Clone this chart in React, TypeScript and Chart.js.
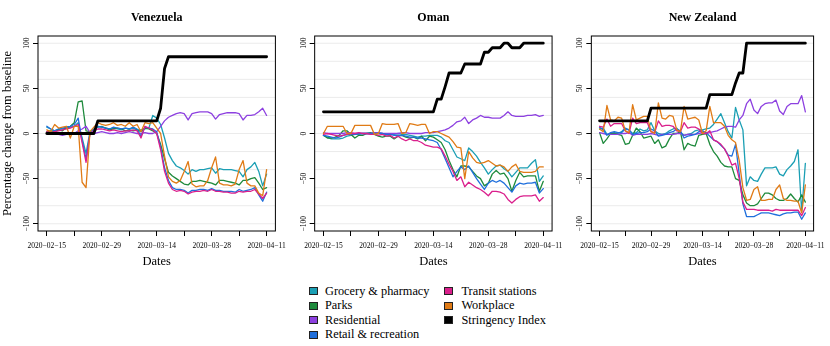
import React, { useEffect, useRef } from "react";
import { Chart, registerables } from "chart.js";

Chart.register(...registerables);

// ---------- data ----------
const countries = ["Venezuela", "Oman", "New Zealand"];
const seriesNames = [
  "Grocery & pharmacy",
  "Parks",
  "Residential",
  "Retail & recreation",
  "Transit stations",
  "Workplace",
  "Stringency Index",
];
const seriesColors = ["#1b9fb4", "#1e8a3c", "#8d40e0", "#1f6fdc", "#da1f8c", "#e07b16", "#000000"];

// x positions are day offsets from 2020-02-15
const xTickDays = [0, 7, 14, 21, 28, 35, 42, 49, 56];
const xTickLabels = ["2020−02−15", "", "2020−02−29", "", "2020−03−14", "", "2020−03−28", "", "2020−04−11"];
const yTickValues = [-100, -50, 0, 50, 100];
const yTickLabels = ["−100", "−50", "0", "50", "100"];
const yGridValues = [-100, -80, -60, -40, -20, 0, 20, 40, 60, 80, 100];

// Venezuela
const venGrocery = [7, 5, 3, 5, 5, 6, 7, 8, 12, -5, -22, 2, 5, 7, 8, 6, 5, 6, 5, 4, 6, 5, 6, 4, 4, 5, 6, 20, 17, 10, -5, -22, -30, -36, -38, -41, -45, -40, -42, -40, -40, -39, -38, -44, -39, -40, -40, -40, -41, -42, -48, -40, -37, -32, -42, -58, -45];
const venParks = [2, 3, 2, 4, 3, 7, 8, 12, 35, 36, 3, 2, 4, 8, 7, 6, 4, 5, 6, 5, 3, 4, 3, 4, 2, 6, 5, 3, 0, -12, -28, -43, -47, -50, -53, -56, -57, -53, -53, -52, -53, -54, -55, -57, -52, -52, -53, -54, -55, -57, -52, -52, -50, -49, -55, -62, -60];
const venResidential = [0, 0, 0, -1, -2, -1, 1, 0, 3, 5, 8, 1, 0, 1, 2, 1, 0, 0, 1, 0, 1, 2, 1, 0, 0, 1, 0, 0, 2, 8, 14, 18, 20, 22, 23, 22, 15, 22, 23, 24, 24, 24, 22, 16, 21, 22, 23, 23, 23, 22, 15, 20, 20, 21, 24, 28, 20];
const venRetail = [8, 5, 3, 5, 6, 7, 8, 10, 17, -8, -28, 0, 5, 8, 7, 6, 5, 7, 6, 5, 6, 5, 7, 5, -3, 7, 6, 5, 2, -15, -38, -52, -60, -62, -62, -63, -66, -63, -63, -62, -62, -63, -61, -63, -63, -64, -64, -64, -65, -62, -64, -63, -62, -60, -68, -75, -65];
const venTransit = [2, 1, 2, 3, 4, 5, 6, 8, 10, -10, -32, 0, 3, 5, 5, 4, 3, 4, 3, 2, 3, 3, 4, 3, -5, 8, 6, 4, 0, -18, -42, -55, -62, -64, -63, -64, -67, -65, -64, -64, -63, -64, -62, -64, -64, -65, -65, -66, -66, -64, -65, -64, -64, -62, -67, -72, -66];
const venWorkplace = [4, 2, 10, 6, 7, 8, -5, 8, 8, -54, -60, 2, 7, 12, 10, 9, 10, 12, 9, 10, 8, 12, 8, 10, 2, 12, 11, 12, 6, 0, -25, -48, -53, -55, -52, -42, -31, -56, -59, -58, -58, -52, -38, -26, -55, -57, -57, -58, -56, -40, -30, -55, -58, -58, -66, -69, -40];
const venStringency = [0, 0, 0, 0, 0, 0, 0, 0, 0, 0, 0, 0, 0, 14, 14, 14, 14, 14, 14, 14, 14, 14, 14, 14, 14, 14, 14, 14, 14, 28, 72, 85, 85, 85, 85, 85, 85, 85, 85, 85, 85, 85, 85, 85, 85, 85, 85, 85, 85, 85, 85, 85, 85, 85, 85, 85, 85];

// Oman
const omanGrocery = [-2, -4, -6, -6, -6, -5, -3, -2, -1, -1, 0, 0, 0, 1, 1, 0, -1, -1, -1, 0, -1, -1, -2, -3, -4, -3, -3, -2, -2, -2, -4, -8, -10, -18, -26, -28, -30, -16, -20, -25, -32, -38, -45, -40, -36, -35, -39, -42, -48, -43, -38, -38, -38, -33, -29, -53, -47];
const omanParks = [-2, -5, -5, -4, -2, 3, 3, -1, -5, -2, -2, 0, 1, -1, -3, -4, -3, -3, -6, -3, -2, -4, -5, -4, -6, -3, -8, -3, -4, -7, -10, -18, -30, -40, -48, -36, -36, -37, -42, -47, -50, -58, -55, -45, -41, -45, -44, -50, -64, -52, -43, -48, -47, -47, -47, -64, -53];
const omanResidential = [1, 0, 0, 0, 0, 0, 1, 1, 0, 0, 0, 0, 0, 1, 1, 0, 0, 0, 0, 0, 1, 1, 0, 0, 0, 0, 1, 1, 1, 2, 3, 4, 6, 9, 13, 14, 18, 11, 15, 17, 20, 18, 18, 17, 17, 17, 20, 24, 20, 19, 19, 19, 20, 20, 21, 19, 20];
const omanRetail = [-2, -3, -4, -5, -4, -2, -1, -1, -1, 0, 0, 0, 0, 0, 0, 0, -1, -1, -2, -2, -2, -3, -4, -4, -5, -5, -6, -7, -8, -10, -18, -28, -38, -48, -42, -37, -40, -36, -43, -50, -56, -62, -55, -52, -54, -52, -55, -60, -65, -58, -55, -56, -55, -55, -54, -66, -61];
const omanTransit = [-1, 0, -1, -2, -3, -2, -1, 0, 0, 1, 0, 0, -1, -1, -2, -1, -3, -2, -5, -3, -6, -8, -6, -8, -8, -10, -13, -14, -15, -15, -17, -25, -34, -42, -52, -48, -59, -54, -57, -60, -62, -65, -69, -64, -64, -65, -67, -73, -77, -73, -70, -69, -69, -69, -68, -75, -71];
const omanWorkplace = [0, 8, 8, 8, 8, 8, 0, 0, 9, 9, 9, 9, 9, -1, 0, 11, 10, 10, 10, 11, 0, 1, 11, 10, 9, 10, 10, 0, 2, 2, 0, -2, -4, -9, -15, -16, -50, -20, -27, -32, -33, -32, -30, -33, -36, -35, -37, -42, -37, -34, -42, -43, -43, -43, -42, -37, -37];
const omanStringency = [24, 24, 24, 24, 24, 24, 24, 24, 24, 24, 24, 24, 24, 24, 24, 24, 24, 24, 24, 24, 24, 24, 24, 24, 24, 24, 24, 24, 24, 38, 38, 52, 67, 67, 67, 67, 77, 77, 77, 77, 77, 90, 90, 95, 95, 95, 100, 100, 95, 95, 95, 100, 100, 100, 100, 100, 100];

// New Zealand
const nzGrocery = [5, 6, -1, 0, 1, 0, 2, 6, 4, 0, 1, 5, 3, 4, 12, 3, 0, -1, 0, 3, 5, 6, 1, -2, -1, 0, 3, 4, 4, 5, 6, 10, 16, 22, 12, 2, -5, 29, 15, 4, -58, -48, -52, -53, -45, -38, -38, -38, -37, -45, -47, -40, -36, -31, -18, -87, -33];
const nzParks = [1, -11, -6, 0, 0, -1, -2, -12, -11, -2, 6, 2, -5, -4, -3, -11, -7, -16, -14, -6, 0, 0, 2, -18, -11, -13, -14, -2, -1, 0, -12, -20, -25, -32, -36, -37, -37, -50, -52, -68, -77, -80, -80, -78, -72, -66, -66, -68, -72, -74, -74, -72, -67, -72, -76, -68, -76];
const nzResidential = [1, 0, -1, -1, -1, -1, 0, 0, 1, -2, -1, -1, -1, -1, 0, -1, -2, -1, -1, -1, -1, 0, 0, -2, -1, -1, -1, 0, 1, 0, 1, 2, 3, 5, 7, 8, 8, 7, 15, 20, 33, 38, 26, 22, 30, 33, 34, 34, 37, 25, 21, 30, 33, 33, 33, 42, 24];
const nzRetail = [7, 4, -2, 1, 2, 1, 1, 5, 4, -1, 0, 1, 1, 2, 5, 3, -3, -2, -1, 1, 2, 5, 3, -5, -3, -2, -1, 2, 3, 1, -3, -7, -9, -13, -17, -24, -25, -12, -45, -78, -92, -92, -92, -90, -88, -88, -88, -89, -90, -91, -89, -88, -88, -87, -87, -95, -88];
const nzTransit = [8, 7, 16, 8, 11, 11, 11, 3, 0, 17, 11, 12, 12, 12, 2, 1, 14, 8, 9, 9, 8, 3, 2, 12, 6, 7, 7, 5, 0, 0, 3, -7, -9, -12, -17, -25, -35, -33, -50, -76, -84, -84, -84, -85, -85, -85, -85, -86, -84, -85, -85, -85, -85, -85, -85, -91, -82];
const nzWorkplace = [5, 2, 31, 15, 14, 18, 17, 3, 1, 32, 15, 17, 19, 19, 2, 0, 34, 17, 16, 20, 19, 4, 2, 30, 16, 17, 18, 15, 0, 3, 30, 12, 12, 12, 8, -2, -7, -10, -30, -60, -74, -73, -62, -59, -74, -74, -73, -73, -62, -57, -72, -74, -74, -75, -75, -88, -57];
const nzStringency = [14, 14, 14, 14, 14, 14, 14, 14, 14, 14, 14, 14, 14, 14, 28, 28, 28, 28, 28, 28, 28, 28, 28, 28, 28, 28, 28, 28, 28, 28, 43, 43, 43, 43, 43, 43, 43, 56, 67, 67, 100, 100, 100, 100, 100, 100, 100, 100, 100, 100, 100, 100, 100, 100, 100, 100, 100];

const panelSeries = [
  [venGrocery, venParks, venResidential, venRetail, venTransit, venWorkplace, venStringency],
  [omanGrocery, omanParks, omanResidential, omanRetail, omanTransit, omanWorkplace, omanStringency],
  [nzGrocery, nzParks, nzResidential, nzRetail, nzTransit, nzWorkplace, nzStringency],
];

// ---------- layout ----------
const FAMILY = '"Liberation Serif", "Times New Roman", serif';
const W = 830;
const CANVAS_H = 280;
const PANEL_W = W / 3;
const BOX_L = 38;
const BOX_R = 275.4;
const BOX_T = 36;
const BOX_B = 231;
const X_AXIS_H = 40;

const decorPlugin = {
  id: "panelDecor",
  beforeDatasetsDraw(chart: any) {
    const { ctx, chartArea: a, scales } = chart;
    const y = scales.y;
    ctx.save();
    ctx.strokeStyle = "#ebebeb";
    ctx.lineWidth = 1;
    for (const v of yGridValues) {
      const py = y.getPixelForValue(v);
      ctx.beginPath();
      ctx.moveTo(a.left, py);
      ctx.lineTo(a.right, py);
      ctx.stroke();
    }
    ctx.restore();
  },
  afterDraw(chart: any, _args: any, opts: any) {
    const { ctx, chartArea: a, scales } = chart;
    const y = scales.y;
    ctx.save();
    ctx.strokeStyle = "#000";
    ctx.lineWidth = 1;
    ctx.strokeRect(a.left, a.top, a.right - a.left, a.bottom - a.top);
    ctx.fillStyle = "#000";
    ctx.textAlign = "center";
    ctx.textBaseline = "middle";
    ctx.font = `bold 12px ${FAMILY}`;
    ctx.fillText(opts.title, (a.left + a.right) / 2, 18);
    ctx.font = `7.5px ${FAMILY}`;
    yTickValues.forEach((v, i) => {
      const py = y.getPixelForValue(v);
      ctx.save();
      ctx.translate(a.left - 11, py);
      ctx.rotate(-Math.PI / 2);
      ctx.fillText(yTickLabels[i], 0, 0);
      ctx.restore();
    });
    ctx.restore();
  },
};

function Panel({ index }: { index: number }) {
  const ref = useRef<HTMLCanvasElement | null>(null);
  useEffect(() => {
    if (!ref.current) return;
    const ox = index * PANEL_W;
    const series = panelSeries[index];
    const chart = new Chart(ref.current, {
      type: "line",
      data: {
        datasets: series.map((vals, k) => ({
          label: seriesNames[k],
          data: vals.map((v, d) => ({ x: d, y: v })),
          borderColor: seriesColors[k],
          backgroundColor: seriesColors[k],
          borderWidth: k === 6 ? 2.8 : 1.3,
          pointRadius: 0,
          tension: 0,
          fill: false,
          order: 6 - k,
          borderJoinStyle: "round",
          borderCapStyle: "round",
        })),
      },
      options: {
        animation: false,
        responsive: false,
        events: [],
        layout: {
          autoPadding: false,
          padding: {
            left: ox,
            right: W - ox - BOX_R,
            top: BOX_T,
            bottom: CANVAS_H - BOX_B - X_AXIS_H,
          },
        },
        plugins: {
          legend: { display: false },
          tooltip: { enabled: false },
          title: { display: false },
          panelDecor: { title: countries[index] },
        } as any,
        scales: {
          x: {
            type: "linear",
            min: -2.24,
            max: 58.24,
            afterBuildTicks: (s: any) => {
              s.ticks = xTickDays.map((v) => ({ value: v }));
            },
            afterFit: (s: any) => {
              s.height = X_AXIS_H;
            },
            border: { display: false },
            grid: { drawOnChartArea: false, drawTicks: true, tickLength: 5, color: "#000", lineWidth: 1 },
            ticks: {
              autoSkip: false,
              maxRotation: 0,
              minRotation: 0,
              padding: 5.5,
              color: "#000",
              font: { size: 7.5, family: FAMILY },
              callback: (_v: any, i: number) => xTickLabels[i],
            },
            title: {
              display: true,
              text: "Dates",
              color: "#000",
              font: { size: 12.5, family: FAMILY },
              padding: { top: 0, bottom: 1.5 },
            },
          },
          y: {
            type: "linear",
            min: -108,
            max: 108,
            afterBuildTicks: (s: any) => {
              s.ticks = yTickValues.map((v) => ({ value: v }));
            },
            afterFit: (s: any) => {
              s.width = BOX_L;
            },
            border: { display: false },
            grid: { drawOnChartArea: false, drawTicks: true, tickLength: 5, color: "#000", lineWidth: 1 },
            ticks: { display: false },
            title: {
              display: index === 0,
              text: "Percentage change from baseline",
              color: "#000",
              font: { size: 12.5, family: FAMILY },
              padding: { top: 0.5, bottom: 0 },
            },
          },
        },
      } as any,
      plugins: [decorPlugin as any],
    });
    return () => chart.destroy();
  }, [index]);
  return (
    <canvas
      ref={ref}
      width={W}
      height={CANVAS_H}
      style={{ position: "absolute", left: 0, top: 0, width: W, height: CANVAS_H }}
    />
  );
}

const legendCols = [
  { boxX: 308.5, textX: 325, items: [0, 1, 2, 3] },
  { boxX: 443.5, textX: 461.5, items: [4, 5, 6] },
];
const legendRowY = [290.5, 305, 319.5, 334];

export default function App() {
  useEffect(() => {
    Chart.defaults.font.family = FAMILY;
  }, []);
  return (
    <div style={{ position: "absolute", left: 0, top: 0, width: W, height: 346, background: "#fff", overflow: "hidden" }}>
      {[0, 1, 2].map((i) => (
        <Panel key={i} index={i} />
      ))}
      {legendCols.map((col, ci) =>
        col.items.map((k, r) => (
          <React.Fragment key={`${ci}-${r}`}>
            <div
              style={{
                position: "absolute",
                left: col.boxX,
                top: legendRowY[r] - 3.5,
                width: 7,
                height: 6,
                background: seriesColors[k],
                border: "0.8px solid #222",
              }}
            />
            <div
              style={{
                position: "absolute",
                left: col.textX,
                top: legendRowY[r] - 8,
                height: 16,
                lineHeight: "16px",
                fontFamily: FAMILY,
                fontSize: 12.3,
                color: "#000",
                whiteSpace: "nowrap",
              }}
            >
              {seriesNames[k]}
            </div>
          </React.Fragment>
        ))
      )}
    </div>
  );
}
